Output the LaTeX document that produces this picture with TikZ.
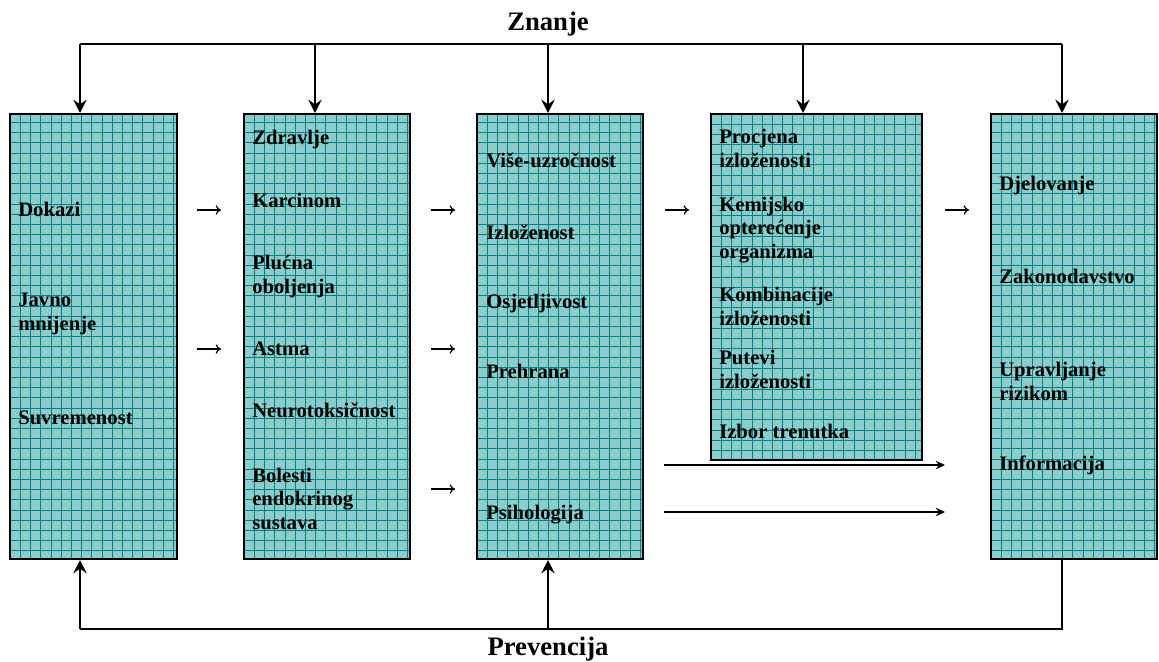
\documentclass[tikz,border=0pt]{standalone}
\usepackage{fontspec}
\setmainfont{Liberation Serif}
\usetikzlibrary{arrows.meta,fit}
\definecolor{panelfill}{RGB}{140,204,204}
\definecolor{gridline}{RGB}{0,128,128}
\begin{document}
\begin{tikzpicture}[x=0.75pt,y=-0.75pt,
  panel/.style={draw=black,line width=1.5pt,fill=panelfill,inner sep=0pt,
    path picture={\draw[gridline,line width=0.45pt,step=7.65pt]
      (path picture bounding box.south west) grid (path picture bounding box.north east);}},
  lbl/.style={font=\bfseries\fontsize{15.5}{17.6}\selectfont,align=left,anchor=base west,inner sep=0pt},
  title/.style={font=\bfseries\fontsize{20}{24}\selectfont,anchor=base,inner sep=0pt},
  bigarrow/.style={line width=1.4pt,-{Stealth[length=10pt,width=10pt,inset=3.5pt]}},
  plainline/.style={line width=1.4pt},
  longarrow/.style={line width=1.1pt,-{Stealth[length=7pt,width=6.5pt,inset=2.5pt]}},
  smallarrow/.style={line width=0.9pt,-{To[length=4pt,width=7pt]}}]
\useasboundingbox (0,0) rectangle (1159,661);

% panels
\node[panel,fit={(10,114) (177,559)}] (b1) {};
\node[panel,fit={(244,114) (410,559)}] (b2) {};
\node[panel,fit={(477,114) (643,559)}] (b3) {};
\node[panel,fit={(711,114) (922,460)}] (b4) {};
\node[panel,fit={(991,114) (1157,559)}] (b5) {};

% titles
\node[title] (znanje) at (548,30) {Znanje};
\node[title] (prev) at (548,655) {Prevencija};

% panel 1 (anchor = baseline of last line)
\node[lbl] (l11) at (18,216) {Dokazi};
\node[lbl] (l12) at (18,330) {Javno\\mnijenje};
\node[lbl] (l13) at (18,424) {Suvremenost};
% panel 2
\node[lbl] (l21) at (252,144) {Zdravlje};
\node[lbl] (l22) at (252,207) {Karcinom};
\node[lbl] (l23) at (252,293) {Plućna\\oboljenja};
\node[lbl] (l24) at (252,355) {Astma};
\node[lbl] (l25) at (252,417) {Neurotoksičnost};
\node[lbl] (l26) at (252,529) {Bolesti\\endokrinog\\sustava};
% panel 3
\node[lbl] (l31) at (486,167) {Više-uzročnost};
\node[lbl] (l32) at (486,239) {Izloženost};
\node[lbl] (l33) at (486,308) {Osjetljivost};
\node[lbl] (l34) at (486,378) {Prehrana};
\node[lbl] (l35) at (486,519) {Psihologija};
% panel 4
\node[lbl] (l41) at (719,167) {Procjena\\izloženosti};
\node[lbl] (l42) at (719,258) {Kemijsko\\opterećenje\\organizma};
\node[lbl] (l43) at (719,325) {Kombinacije\\izloženosti};
\node[lbl] (l44) at (719,388) {Putevi\\izloženosti};
\node[lbl] (l45) at (719,438) {Izbor trenutka};
% panel 5
\node[lbl] (l51) at (999,190) {Djelovanje};
\node[lbl] (l52) at (999,283) {Zakonodavstvo};
\node[lbl] (l53) at (999,400) {Upravljanje\\rizikom};
\node[lbl] (l54) at (999,470) {Informacija};

% top feedback (Znanje)
\coordinate (t1) at (80,44);
\coordinate (t2) at (315,44);
\coordinate (t3) at (548,44);
\coordinate (t4) at (803,44);
\coordinate (t5) at (1062,44);
\draw[plainline] (t1) -- (t5);
\draw[bigarrow] (t1) -- (t1 |- b1.north);
\draw[bigarrow] (t2) -- (t2 |- b2.north);
\draw[bigarrow] (t3) -- (t3 |- b3.north);
\draw[bigarrow] (t4) -- (t4 |- b4.north);
\draw[bigarrow] (t5) -- (t5 |- b5.north);

% bottom feedback (Prevencija)
\coordinate (p1) at (80,629);
\coordinate (p3) at (548,629);
\coordinate (p5) at (1062,629);
\draw[plainline] (p5 |- b5.south) -- (p5) -- (p1);
\draw[bigarrow] (p1) -- (p1 |- b1.south);
\draw[bigarrow] (p3) -- (p3 |- b3.south);

% small arrows between panels
\coordinate (s1a) at (197,210); \coordinate (s1b) at (221,210);
\coordinate (s2a) at (197,349); \coordinate (s2b) at (221,349);
\coordinate (s3a) at (431,210); \coordinate (s3b) at (455,210);
\coordinate (s4a) at (431,349); \coordinate (s4b) at (455,349);
\coordinate (s5a) at (431,489); \coordinate (s5b) at (455,489);
\coordinate (s6a) at (665,210); \coordinate (s6b) at (689,210);
\coordinate (s7a) at (945,210); \coordinate (s7b) at (969,210);
\foreach \i in {1,...,7} {\draw[smallarrow] (s\i a) -- (s\i b);}

% long arrows
\coordinate (la1) at (664,465); \coordinate (lb1) at (945,465);
\coordinate (la2) at (664,512); \coordinate (lb2) at (945,512);
\draw[longarrow] (la1) -- (lb1);
\draw[longarrow] (la2) -- (lb2);
\end{tikzpicture}
\end{document}
